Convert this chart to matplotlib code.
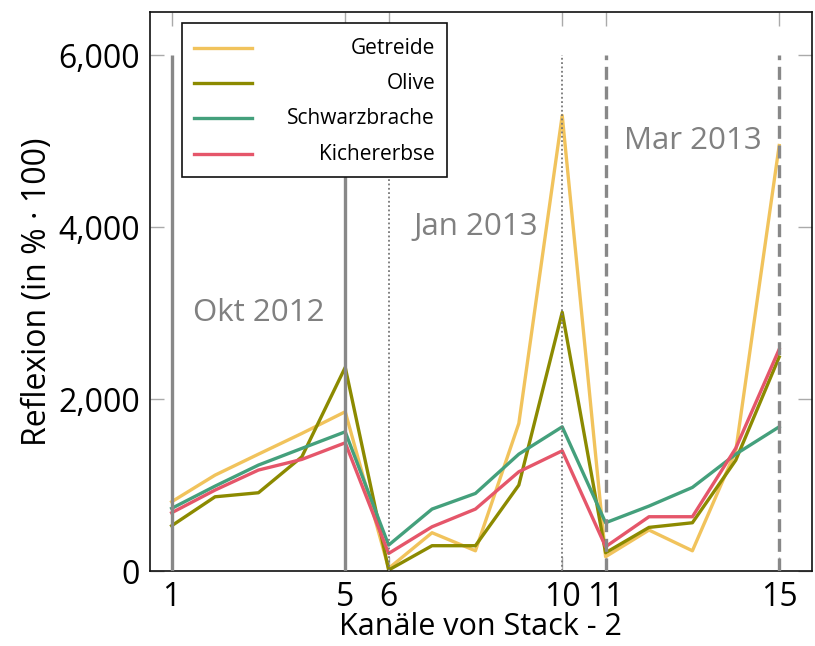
import matplotlib
matplotlib.use("Agg")
import matplotlib.pyplot as plt
from matplotlib.patches import Rectangle
from matplotlib.lines import Line2D

plt.rcParams['font.family'] = ['Open Sans', 'DejaVu Sans']

# Kanäle 1-15 von Stack-2 (drei Aufnahmezeitpunkte à 5 Kanäle)
kanaele = list(range(1, 16))
getreide = [806, 1116, 1360, 1601, 1853, 31, 446, 236, 1717, 5300, 167, 477, 236, 1400, 4950]
olive = [527, 864, 911, 1329, 2370, 12, 295, 295, 1000, 3010, 213, 508, 562, 1290, 2490]
schwarzbrache = [729, 988, 1233, 1427, 1620, 302, 721, 903, 1360, 1678, 562, 756, 973, 1360, 1678]
kichererbse = [678, 942, 1175, 1299, 1492, 205, 515, 721, 1155, 1399, 283, 632, 632, 1430, 2580]

namen = ["Getreide", "Olive", "Schwarzbrache", "Kichererbse"]
farben = ["#f1c35c", "#8c8a00", "#44a07c", "#e5566a"]

# Zeitpunkte: Beschriftung, Position, Grenzkanäle, Linienstil
zeitpunkte = ["Okt 2012", "Jan 2013", "Mar 2013"]
grenzen = [(1, 5), (6, 10), (11, 15)]
text_x = [3, 8, 13]
text_y = [3000, 4000, 5000]

xticks = [1, 5, 6, 10, 11, 15]
yticks = [0, 2000, 4000, 6000]
ytick_labels = ["0", "2,000", "4,000", "6,000"]

fig = plt.figure(figsize=(8.15, 6.46), dpi=100)
ax = fig.add_axes([0.184, 0.116, 0.812, 0.865])

grau = "#888888"
stile = [dict(ls="-", lw=2.4, c=grau), dict(ls=(0, (1, 1.4)), lw=1.3, c="#777777"),
         dict(ls=(0, (3.9, 2.0)), lw=2.4, c=grau)]
for (a, b), st in zip(grenzen, stile):
    for xv in (a, b):
        ax.vlines(xv, 0, 6000, colors=st["c"], linestyles=st["ls"], linewidth=st["lw"], zorder=3)

for werte, name, farbe in zip([getreide, olive, schwarzbrache, kichererbse], namen, farben):
    ax.plot(kanaele, werte, color=farbe, lw=2.4, label=name, zorder=2)

for t, xv, yv in zip(zeitpunkte, text_x, text_y):
    ax.text(xv, yv, t, ha="center", va="center", fontsize=22.5, color="#808080")

ax.set_xlim(0.5, 15.75)
ax.set_ylim(0, 6500)
ax.set_xticks(xticks)
ax.set_xticklabels([str(x) for x in xticks])
ax.set_yticks(yticks)
ax.set_yticklabels(ytick_labels)
ax.tick_params(direction="in", length=10, width=1, color="#aaaaaa", labelsize=23,
               labelcolor="black", top=True, right=True, pad=7)
for sp in ax.spines.values():
    sp.set_linewidth(1.2)
    sp.set_color("#111111")

ax.set_xlabel("Kanäle von Stack - 2", fontsize=22, labelpad=-1)
ax.set_ylabel("Reflexion (in % · 100)", fontsize=23, labelpad=3)

# Legende mit rechtsbündigen Einträgen
ax.add_patch(Rectangle((0.048, 0.705), 0.401, 0.275, transform=ax.transAxes,
                       facecolor="white", edgecolor="#111111", lw=1.2, zorder=5))
zeilen_y = [0.936, 0.873, 0.810, 0.746]
for name, farbe, zy in zip(namen, farben, zeilen_y):
    ax.add_line(Line2D([0.066, 0.154], [zy, zy], transform=ax.transAxes,
                       color=farbe, lw=2.4, zorder=6))
    ax.text(0.431, zy, name, transform=ax.transAxes, ha="right", va="center",
            fontsize=15, zorder=6)

fig.savefig("out.png", dpi=100)
